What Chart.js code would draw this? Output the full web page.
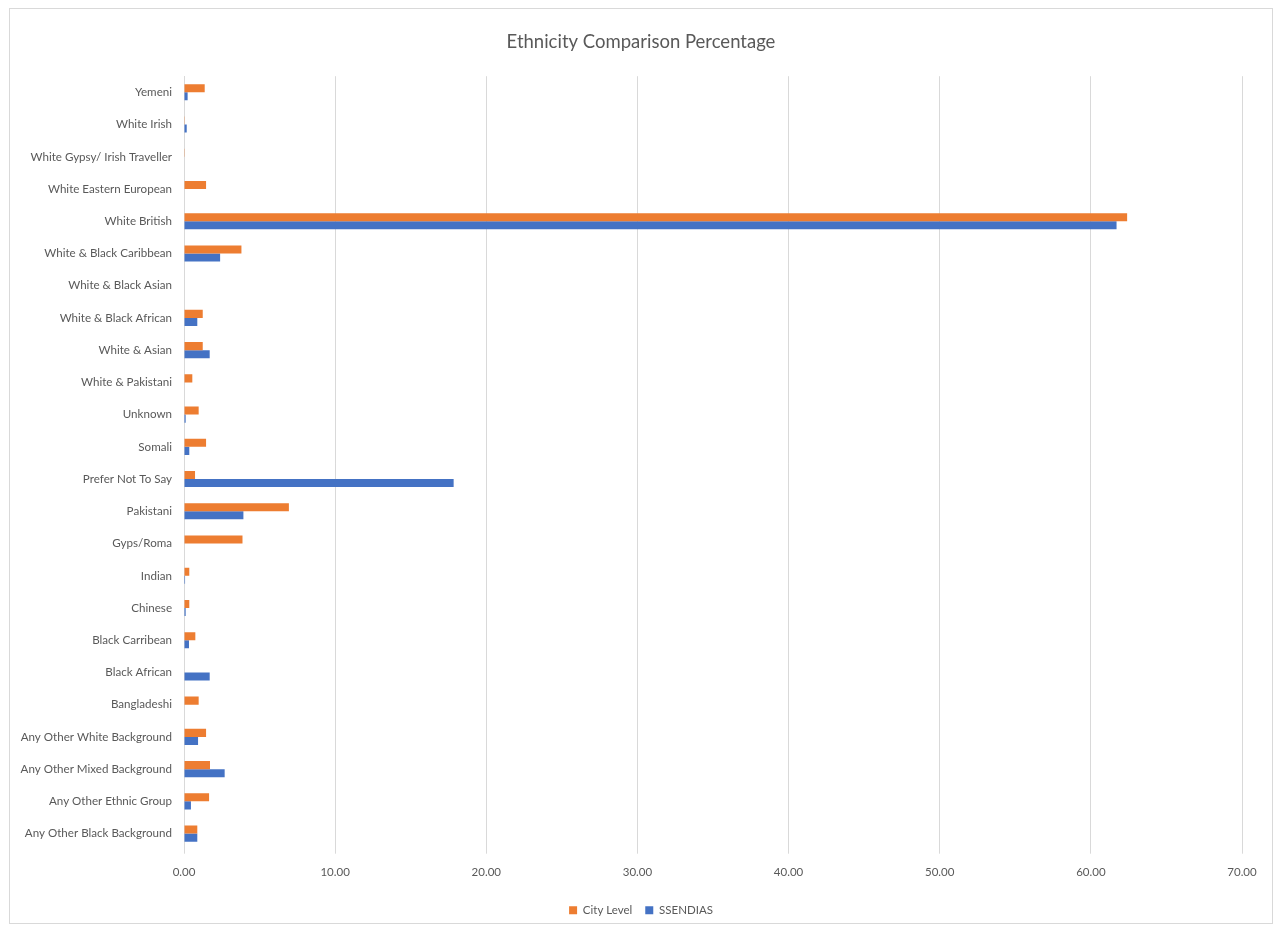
<!DOCTYPE html>
<html>
<head>
<meta charset="utf-8">
<script src="https://cdn.jsdelivr.net/npm/chart.js@4/dist/chart.umd.min.js"></script>
<style>
  body { margin: 0; background: #fff; }
  #wrap { position: relative; width: 1278px; height: 931px; }
  #frame { position: absolute; left: 9px; top: 8px; width: 1262px; height: 914px; border: 1px solid #d9d9d9; pointer-events: none; }
</style>
</head>
<body>
<div id="wrap">
  <canvas id="chart" width="1278" height="931"></canvas>
  <div id="frame"></div>
</div>
<script>
// categories, top to bottom as in the picture
const categories = [
  'Yemeni', 'White Irish', 'White Gypsy/ Irish Traveller', 'White Eastern European',
  'White British', 'White & Black Caribbean', 'White & Black Asian', 'White & Black African',
  'White & Asian', 'White & Pakistani', 'Unknown', 'Somali', 'Prefer Not To Say',
  'Pakistani', 'Gyps/Roma', 'Indian', 'Chinese', 'Black Carribean', 'Black African',
  'Bangladeshi', 'Any Other White Background', 'Any Other Mixed Background',
  'Any Other Ethnic Group', 'Any Other Black Background'
];

const cityLevel = [
  1.37, 0.05, 0.05, 1.46,
  62.4, 3.80, 0, 1.24,
  1.24, 0.55, 0.97, 1.46, 0.73,
  6.94, 3.87, 0.35, 0.35, 0.75, 0,
  0.97, 1.46, 1.72,
  1.66, 0.88
];

const ssendias = [
  0.24, 0.18, 0, 0,
  61.7, 2.39, 0, 0.88,
  1.70, 0, 0.11, 0.35, 17.84,
  3.93, 0, 0.07, 0.11, 0.33, 1.70,
  0, 0.93, 2.69,
  0.46, 0.88
];

const xTicks = [0, 10, 20, 30, 40, 50, 60, 70];

const textColor = '#595959';
const fontFamily = "Lato, 'Liberation Sans', sans-serif";

// title and legend are centred on the whole frame in the original, not on the padded box
const centreShift = {
  id: 'centreShift',
  afterLayout(chart) {
    const dx = 15;
    [chart.titleBlock, chart.legend].forEach(box => {
      if (box) { box.left += dx; box.right += dx; }
    });
  }
};

new Chart(document.getElementById('chart'), {
  type: 'bar',
  data: {
    labels: categories,
    datasets: [
      { label: 'City Level', data: cityLevel, backgroundColor: '#ED7D31' },
      { label: 'SSENDIAS', data: ssendias, backgroundColor: '#4472C4' }
    ]
  },
  options: {
    indexAxis: 'y',
    responsive: false,
    animation: false,
    layout: { padding: { left: 10, right: 36, top: 0, bottom: 5 } },
    datasets: { bar: { categoryPercentage: 0.5, barPercentage: 1.0 } },
    plugins: {
      title: {
        display: true,
        text: 'Ethnicity Comparison Percentage',
        color: textColor,
        font: { family: fontFamily, size: 18.5, weight: 'normal' },
        padding: { top: 31, bottom: 23 }
      },
      legend: {
        position: 'bottom',
        labels: {
          color: textColor,
          font: { family: fontFamily, size: 11.5 },
          boxWidth: 8,
          boxHeight: 8,
          padding: 13
        }
      },
      tooltip: { enabled: false }
    },
    scales: {
      x: {
        min: 0,
        max: 70,
        afterBuildTicks: (scale) => { scale.ticks = xTicks.map(v => ({ value: v })); },
        ticks: {
          color: textColor,
          font: { family: fontFamily, size: 11.5 },
          padding: 12,
          callback: (v) => Number(v).toFixed(2)
        },
        grid: { color: '#d9d9d9', lineWidth: 1, drawTicks: true, tickLength: 4 },
        border: { display: false }
      },
      y: {
        afterFit: (scale) => { scale.width = 174; },
        ticks: {
          color: textColor,
          font: { family: fontFamily, size: 11.6 },
          padding: 12,
          autoSkip: false
        },
        grid: { display: false, drawTicks: false },
        border: { display: true, color: '#d9d9d9' }
      }
    }
  },
  plugins: [centreShift]
});
</script>
</body>
</html>
